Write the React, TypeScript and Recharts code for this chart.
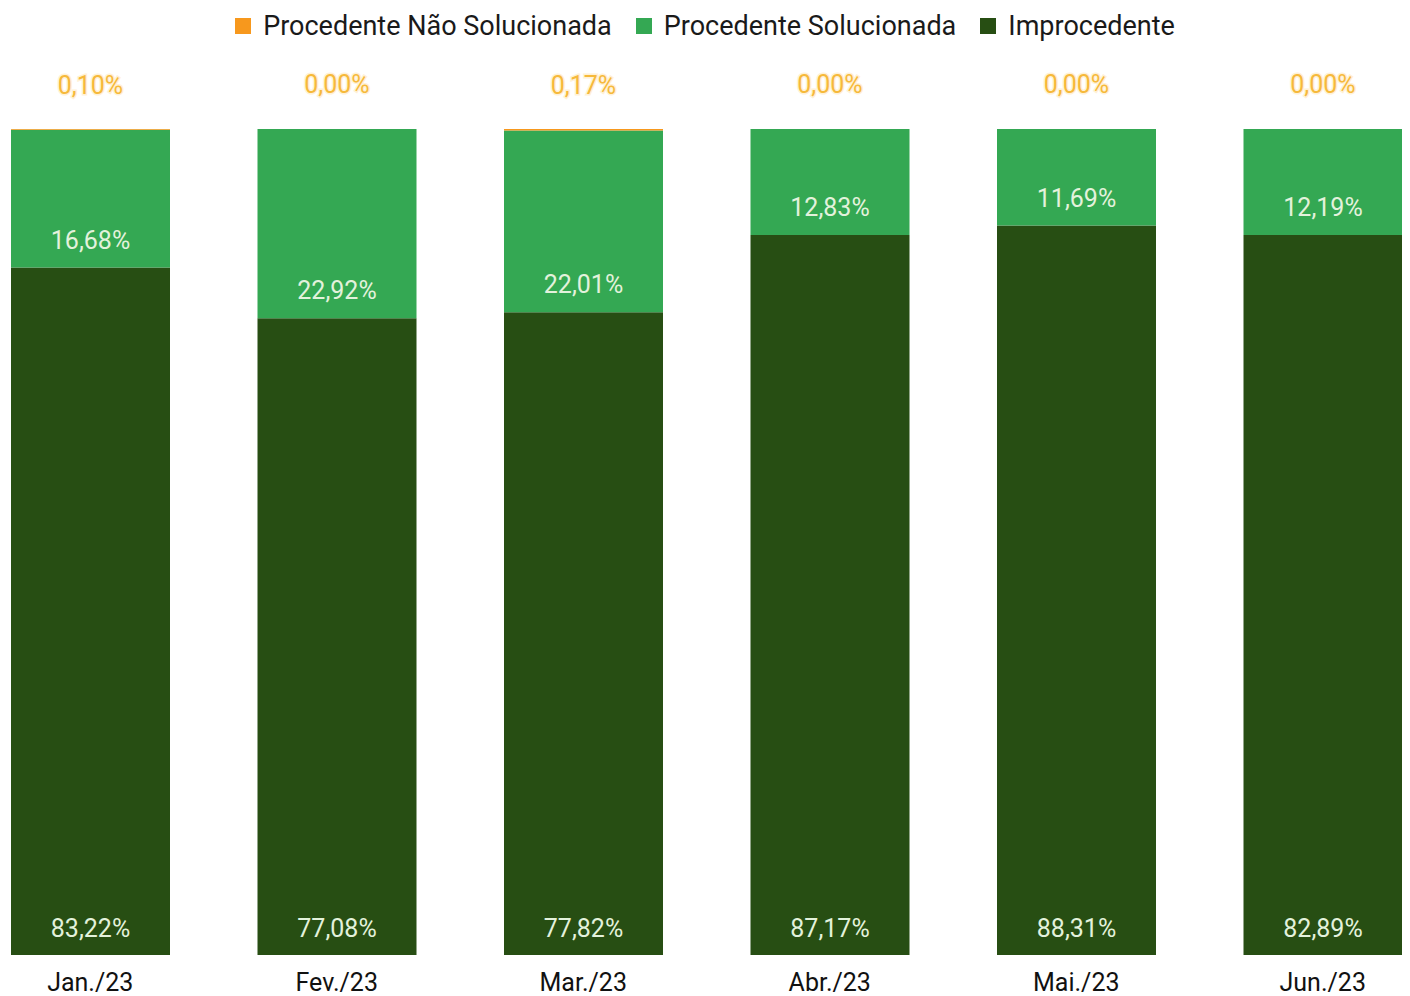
import React from 'react';
import { BarChart, Bar, XAxis, YAxis, LabelList } from 'recharts';

const months = ['Jan./23', 'Fev./23', 'Mar./23', 'Abr./23', 'Mai./23', 'Jun./23'];
const naoSolucionada = [0.10, 0.00, 0.17, 0.00, 0.00, 0.00];
const solucionada = [16.68, 22.92, 22.01, 12.83, 11.69, 12.19];
const improcedente = [83.22, 77.08, 77.82, 87.17, 88.31, 82.89];

const seriesNames = ['Procedente Não Solucionada', 'Procedente Solucionada', 'Improcedente'];
const seriesColors = ['#f7981d', '#34a853', '#274e13'];

const data = months.map((m, i) => ({
  month: m,
  nao: naoSolucionada[i],
  sol: solucionada[i],
  imp: improcedente[i],
}));

const fmt = (v: any) => Number(v).toFixed(2).replace('.', ',') + '%';
const FONT = 'Roboto, "Noto Sans", sans-serif';

const TopLabel = (props: any) => {
  const { x, y, width, value } = props;
  return (
    <text
      x={Number(x) + Number(width) / 2}
      y={Number(y) - 36}
      textAnchor="middle"
      style={{
        fontSize: 25,
        fill: '#f6b93b',
        stroke: '#fff1d6',
        strokeWidth: 3,
        paintOrder: 'stroke',
        fontFamily: FONT,
      }}
    >
      {fmt(value)}
    </text>
  );
};

export default function App() {
  return (
    <div style={{ position: 'relative', width: 1394, height: 988, fontFamily: FONT }}>
      <div
        style={{
          position: 'absolute',
          top: 2,
          left: 0,
          width: 1394,
          display: 'flex',
          justifyContent: 'center',
          alignItems: 'center',
          fontSize: 27,
          color: '#1a1a1a',
          zIndex: 2,
        }}
      >
        {seriesNames.map((n, i) => (
          <div key={n} style={{ display: 'flex', alignItems: 'center', marginRight: i < 2 ? 24 : 0 }}>
            <div style={{ width: 16, height: 16, background: seriesColors[i], marginRight: 12 }} />
            <span>{n}</span>
          </div>
        ))}
      </div>
      <BarChart
        width={1394}
        height={988}
        data={data}
        stackOffset="expand"
        margin={{ top: 121, right: 0, left: 3, bottom: 3 }}
        barSize={159}
      >
        <XAxis
          dataKey="month"
          axisLine={false}
          tickLine={false}
          tickMargin={12}
          height={38}
          padding={{ left: -44, right: -44 }}
          tick={{ fontSize: 25, fill: '#111', fontFamily: FONT }}
          interval={0}
        />
        <YAxis hide domain={[0, 1]} />
        <Bar dataKey="imp" stackId="a" fill={seriesColors[2]} isAnimationActive={false}>
          <LabelList
            dataKey="imp"
            position="insideBottom"
            offset={18}
            formatter={fmt}
            style={{ fontSize: 25, fill: '#e3f2dc', fontFamily: FONT }}
          />
        </Bar>
        <Bar dataKey="sol" stackId="a" fill={seriesColors[1]} isAnimationActive={false}>
          <LabelList
            dataKey="sol"
            position="insideBottom"
            offset={19}
            formatter={fmt}
            style={{ fontSize: 25, fill: '#e3f2dc', fontFamily: FONT }}
          />
          <LabelList dataKey="nao" content={TopLabel} />
        </Bar>
        <Bar dataKey="nao" stackId="a" fill={seriesColors[0]} isAnimationActive={false} />
      </BarChart>
    </div>
  );
}
